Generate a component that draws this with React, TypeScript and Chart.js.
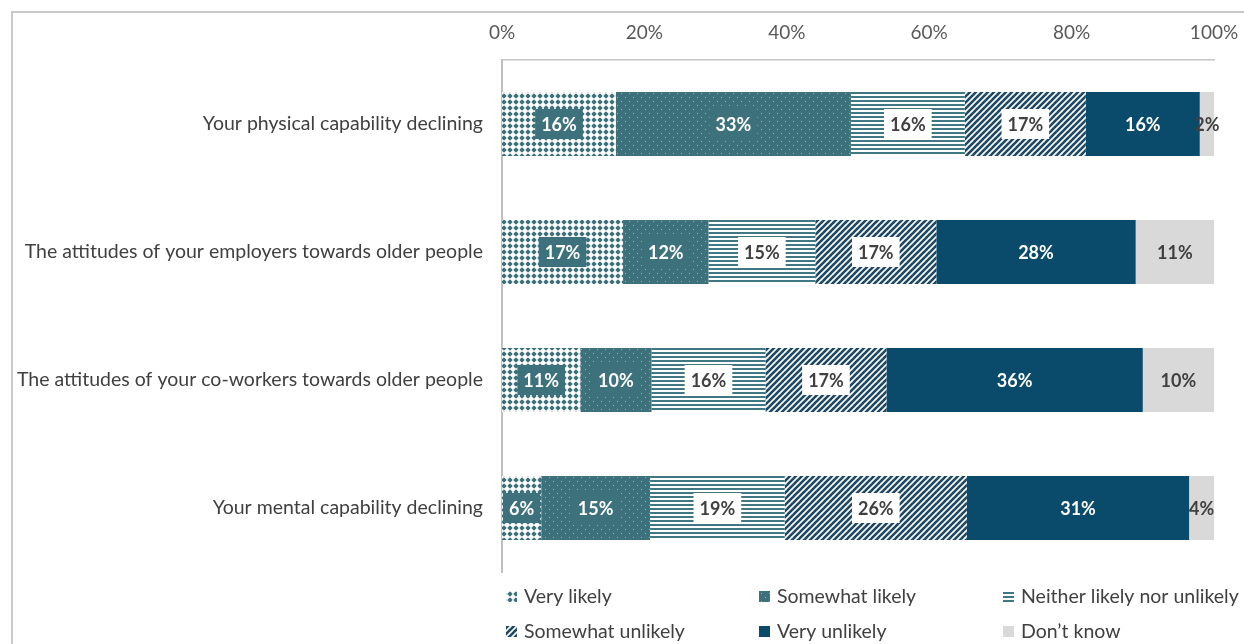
import React, { useEffect, useRef } from 'react';
import { Chart, registerables } from 'chart.js';

Chart.register(...registerables);

const categories = [
  'Your physical capability declining',
  'The attitudes of your employers towards older people',
  'The attitudes of your co-workers towards older people',
  'Your mental capability declining',
];
const veryLikely = [16, 17, 11, 5.5];
const somewhatLikely = [33, 12, 10, 15.3];
const neitherLikely = [16, 15, 16, 18.9];
const somewhatUnlikely = [17, 17, 17, 25.6];
const veryUnlikely = [16, 28, 36, 31.2];
const dontKnow = [2, 11, 10, 3.5];
const seriesNames = [
  'Very likely',
  'Somewhat likely',
  'Neither likely nor unlikely',
  'Somewhat unlikely',
  'Very unlikely',
  'Don\u2019t know',
];
const xTicks = [0, 20, 40, 60, 80, 100];

const TEAL = '#3d717b';
const NAVY = '#0a4a6b';
const DIAG = '#1c4865';
const GREY = '#d9d9d9';
const FONT = 'Lato';

function makePattern(kind: string): CanvasPattern | string {
  const c = document.createElement('canvas');
  const ctx = c.getContext('2d')!;
  if (kind === 'grid') {
    c.width = 6; c.height = 6;
    ctx.fillStyle = TEAL; ctx.fillRect(0, 0, 6, 6);
    ctx.fillStyle = '#ffffff';
    ctx.fillRect(0, 2.25, 6, 1.5);
    ctx.fillRect(2.25, 0, 1.5, 6);
    ctx.beginPath(); ctx.arc(3, 3, 2.3, 0, Math.PI * 2); ctx.fill();
  } else if (kind === 'dots') {
    c.width = 8; c.height = 8;
    ctx.fillStyle = TEAL; ctx.fillRect(0, 0, 8, 8);
    ctx.fillStyle = '#8eb0b6';
    ctx.fillRect(1, 1, 1, 1);
    ctx.fillRect(5, 5, 1, 1);
  } else if (kind === 'hstripe') {
    c.width = 4; c.height = 4;
    ctx.fillStyle = '#ffffff'; ctx.fillRect(0, 0, 4, 4);
    ctx.fillStyle = '#3f7882'; ctx.fillRect(0, 0, 4, 2);
  } else if (kind === 'diag') {
    c.width = 6; c.height = 6;
    ctx.fillStyle = '#ffffff'; ctx.fillRect(0, 0, 6, 6);
    ctx.strokeStyle = DIAG; ctx.lineWidth = 2.6;
    for (const o of [-6, 0, 6]) {
      ctx.beginPath(); ctx.moveTo(o - 1, 7); ctx.lineTo(o + 7, -1); ctx.stroke();
    }
  }
  return ctx.createPattern(c, 'repeat')!;
}

export default function App() {
  const ref = useRef<HTMLCanvasElement>(null);
  useEffect(() => {
    document.body.style.margin = '0';
    const fills = [
      makePattern('grid'),
      makePattern('dots'),
      makePattern('hstripe'),
      makePattern('diag'),
      NAVY,
      GREY,
    ];
    const labelStyles = [
      { box: TEAL, color: '#ffffff' },
      { box: TEAL, color: '#ffffff' },
      { box: '#ffffff', color: '#404040' },
      { box: '#ffffff', color: '#404040' },
      { box: null, color: '#ffffff' },
      { box: null, color: '#404040' },
    ];
    const seriesData = [veryLikely, somewhatLikely, neitherLikely, somewhatUnlikely, veryUnlikely, dontKnow];

    const framePlugin = {
      id: 'frame',
      beforeDraw(chart: any) {
        const { ctx, width, height } = chart;
        ctx.save();
        ctx.fillStyle = '#ffffff';
        ctx.fillRect(0, 0, width, height);
        ctx.fillStyle = '#c9c9c9';
        ctx.fillRect(11, 11, width - 11, 2);
        ctx.fillRect(11, 11, 2, height - 11);
        ctx.restore();
      },
    };

    const labelPlugin = {
      id: 'segLabels',
      afterDatasetsDraw(chart: any) {
        const { ctx } = chart;
        ctx.save();
        ctx.font = `bold 18px ${FONT}`;
        ctx.textAlign = 'center';
        ctx.textBaseline = 'middle';
        chart.data.datasets.forEach((ds: any, i: number) => {
          const meta = chart.getDatasetMeta(i);
          const st = labelStyles[i];
          meta.data.forEach((el: any, j: number) => {
            const v = ds.data[j];
            const txt = Math.round(v) + '%';
            const cx = (el.x + el.base) / 2;
            const cy = el.y;
            const w = ctx.measureText(txt).width;
            if (st.box) {
              ctx.fillStyle = st.box;
              ctx.fillRect(cx - w / 2 - 6, cy - 15, w + 12, 30);
            }
            ctx.fillStyle = st.color;
            ctx.fillText(txt, cx, cy + 1);
          });
        });
        ctx.restore();
      },
    };

    const legendPlugin = {
      id: 'gridLegend',
      afterDraw(chart: any) {
        const { ctx, chartArea } = chart;
        const colX = [4, 257, 501];
        const rowY = [25, 60];
        ctx.save();
        ctx.font = `19.5px ${FONT}`;
        ctx.textBaseline = 'middle';
        ctx.textAlign = 'left';
        seriesNames.forEach((name, i) => {
          const x = chartArea.left + colX[i % 3];
          const y = chartArea.bottom + rowY[Math.floor(i / 3)];
          ctx.fillStyle = fills[i] as any;
          ctx.fillRect(x, y - 6, 11, 11);
          ctx.fillStyle = '#404040';
          ctx.fillText(name, x + 18, y);
        });
        ctx.restore();
      },
    };

    const chart = new Chart(ref.current!, {
      type: 'bar',
      data: {
        labels: categories,
        datasets: seriesData.map((d, i) => ({
          label: seriesNames[i],
          data: d,
          backgroundColor: fills[i] as any,
          borderWidth: 0,
          barPercentage: 1,
          categoryPercentage: 0.5,
        })),
      },
      options: {
        indexAxis: 'y',
        animation: false,
        responsive: false,
        layout: { padding: { left: 12, right: 30, top: 12, bottom: 72 } },
        plugins: { legend: { display: false }, tooltip: { enabled: false } },
        scales: {
          x: {
            position: 'top',
            stacked: true,
            min: 0,
            max: 100,
            afterFit(scale: any) {
              scale.height = 48;
              scale.paddingLeft = 0;
              scale.paddingRight = 0;
            },
            afterBuildTicks(scale: any) { scale.ticks = xTicks.map((v) => ({ value: v })); },
            grid: { display: false, drawTicks: false },
            border: { display: true, color: '#c4c4c4', width: 1.5 },
            ticks: {
              padding: 16,
              color: '#595959',
              font: { family: FONT, size: 19 },
              callback: (v: any) => v + '%',
            },
          },
          y: {
            stacked: true,
            afterFit(scale: any) { scale.width = 490; },
            grid: { display: false, drawTicks: false },
            border: { display: true, color: '#c0c0c0', width: 2 },
            ticks: {
              padding: 19,
              color: '#404040',
              font: { family: FONT, size: 19.5 },
            },
          },
        },
      },
      plugins: [framePlugin, labelPlugin, legendPlugin],
    } as any);
    return () => chart.destroy();
  }, []);
  return (
    <div style={{ width: 1244, height: 644 }}>
      <canvas ref={ref} width={1244} height={644} style={{ display: 'block' }} />
    </div>
  );
}
